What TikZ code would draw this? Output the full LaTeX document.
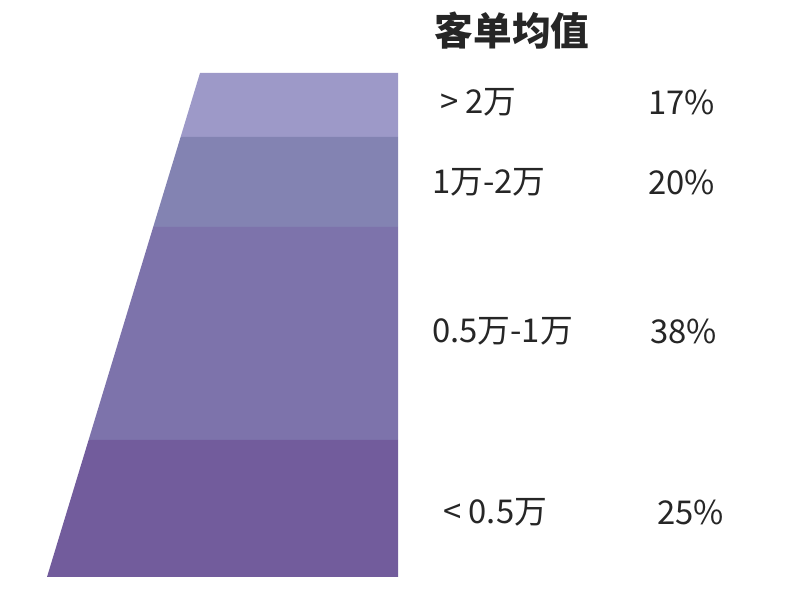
\documentclass[tikz,border=0pt]{standalone}
\usepackage{fontspec}
\setmainfont{Noto Sans CJK SC}
\usepackage{xcolor}
\usetikzlibrary{positioning}

\definecolor{bandtop}{HTML}{9D99C8}
\definecolor{bandtwo}{HTML}{8383B2}
\definecolor{bandthree}{HTML}{7D73AB}
\definecolor{bandlow}{HTML}{725C9C}

\begin{document}
\begin{tikzpicture}[
      x=0.03cm, y=-0.03cm,
      every node/.style={font=\fontsize{28}{28}\selectfont, inner sep=0pt, text=black!85},
      bracket/.style={anchor=west},
      share/.style={anchor=west},
      heading/.style={font=\fontsize{33}{33}\selectfont\bfseries}
    ]
    \useasboundingbox (0,0) rectangle (800,600);

    % funnel bands, top to bottom
    \fill[bandtop]   (200,73)   -- (398,73)  -- (398,137) -- (180.6,137) -- cycle;
    \fill[bandtwo]   (180.6,137) -- (398,137) -- (398,227) -- (153.2,227) -- cycle;
    \fill[bandthree] (153.2,227) -- (398,227) -- (398,440) -- (88.6,440)  -- cycle;
    \fill[bandlow]   (88.6,440)  -- (398,440) -- (398,577) -- (47,577)    -- cycle;

    \node[heading] (title) at (512,31) {客单均值};

    \node[bracket] (r1) at (440,102) {> 2万};
    \node[bracket] (r2) at (432,182) {1万-2万};
    \node[bracket] (r3) at (432,331) {0.5万-1万};
    \node[bracket] (r4) at (443,512) {< 0.5万};

    \node[share] (s1) at (648,102) {17\%};
    \node[share] (s2) at (648,182) {20\%};
    \node[share] (s3) at (650,331) {38\%};
    \node[share] (s4) at (657,512) {25\%};
  \end{tikzpicture}
\end{document}
